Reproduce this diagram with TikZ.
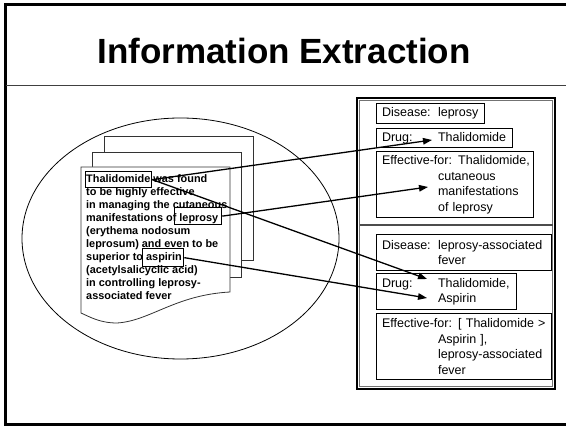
\documentclass[tikz,border=0pt]{standalone}
\usepackage{fontspec}
\setmainfont{Liberation Sans}
\usetikzlibrary{arrows.meta}
\begin{document}
\begin{tikzpicture}[x=1pt,y=-1pt,
  every node/.style={inner sep=0pt},
  field/.style={draw, line width=1.1pt, anchor=north west, align=left,
    inner xsep=5.5pt, font=\fontsize{12.5}{15.5}\selectfont},
  sheet/.style={draw=black!80, line width=0.8pt, fill=white},
  hl/.style={draw, line width=1.3pt, anchor=north west},
  link/.style={line width=1.3pt, -{Triangle[length=9pt,width=6.5pt]}}
]
\useasboundingbox (0,0) rectangle (566,427);

% slide frame and title
\draw[line width=3pt] (5.5,4.5) rectangle (572,424.5);
\draw[line width=0.9pt, black!75] (5.5,85) -- (566,85);
\node[anchor=base, font=\bfseries\fontsize{35}{40}\selectfont] (title) at (284,64) {Information Extraction};

% source documents inside the ellipse
\draw[line width=0.8pt] (180.5,238.5) ellipse [x radius=158.5, y radius=120.5];
\draw[sheet] (104,136) rectangle (253,260);
\draw[sheet] (92,152) rectangle (241,277);
\draw[sheet] (81,167) -- (230,167) -- (230,292)
  .. controls (175,295) and (150,321) .. (117,323)
  .. controls (100,323) and (90,317) .. (81,313) -- cycle;

\node[anchor=north west, align=left, font=\bfseries\fontsize{10.9}{13.1}\selectfont] (doc) at (86,174)
  {Thalidomide was found\\
   to be highly effective\\
   in managing the cutaneous\\
   manifestations of leprosy\\
   (erythema nodosum\\
   leprosum) and even to be\\
   superior to aspirin\\
   (acetylsalicyclic acid)\\
   in controlling leprosy-\\
   associated fever};

\node[hl, minimum width=66pt, minimum height=16pt] (thal) at (85,171) {};
\node[hl, minimum width=47pt, minimum height=17pt] (lep) at (174,207) {};
\node[hl, minimum width=41pt, minimum height=18pt] (asp) at (142,248) {};

% extracted records
\draw[line width=1.5pt] (357,98) rectangle (555,389);
\draw[line width=0.8pt, black!55] (359.5,100.5) rectangle (552.5,386.5);
\draw[line width=1.1pt, black!70] (359.5,225) -- (552.5,225);

\node[field, text width=97pt, minimum height=20pt] (dis1) at (376,103)
  {\mbox{\makebox[56pt][l]{Disease:}leprosy}};
\node[field, text width=125pt, minimum height=19pt] (drug1) at (376,128)
  {\mbox{\makebox[56pt][l]{Drug:}Thalidomide}};
\node[field, text width=146pt, minimum height=66pt] (eff1) at (376,151)
  {\mbox{Effective-for: Thalidomide,}\\
   \hspace*{56pt}cutaneous\\
   \hspace*{56pt}manifestations\\
   \hspace*{56pt}of leprosy};

\node[field, text width=164pt, minimum height=36pt] (dis2) at (376,234)
  {\mbox{\makebox[56pt][l]{Disease:}leprosy-associated}\\
   \hspace*{56pt}fever};
\node[field, text width=129pt, minimum height=36pt] (drug2) at (376,273)
  {\mbox{\makebox[56pt][l]{Drug:}Thalidomide,}\\
   \hspace*{56pt}Aspirin};
\node[field, text width=164pt, minimum height=66pt] (eff2) at (376,313)
  {\mbox{Effective-for: [ Thalidomide >}\\
   \hspace*{56pt}Aspirin ],\\
   \hspace*{56pt}\mbox{leprosy-associated}\\
   \hspace*{56pt}fever};

% links from highlighted mentions to the slots they fill
\coordinate (tipA) at (432,140);
\coordinate (tipB) at (428,187);
\coordinate (tipC) at (427,279);
\coordinate (tipD) at (427,298);
\draw[link] (thal.east) -- (tipA);
\draw[link] (lep.east) -- (tipB);
\draw[link] (thal.east) -- (tipC);
\draw[link] (asp.east) -- (tipD);
\end{tikzpicture}
\end{document}
